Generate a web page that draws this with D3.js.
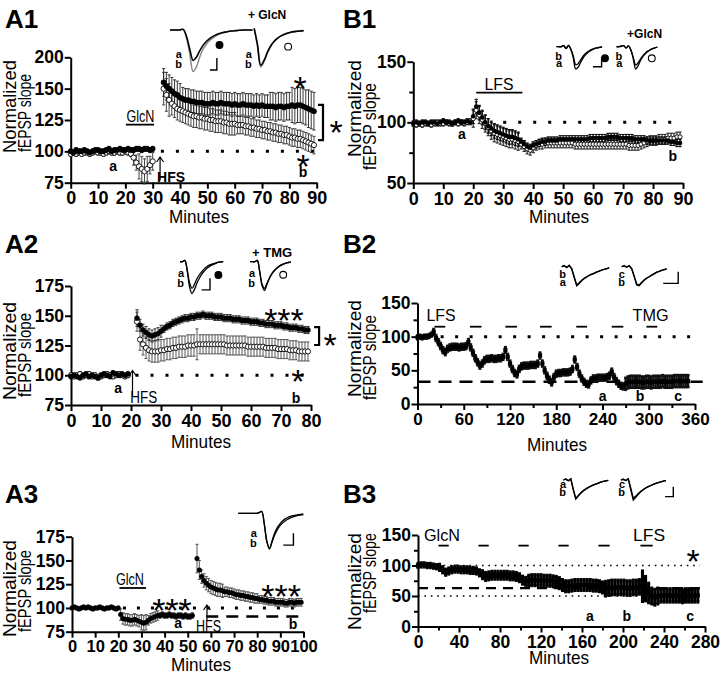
<!DOCTYPE html>
<html><head><meta charset="utf-8">
<script src="https://cdn.jsdelivr.net/npm/d3@7"></script>
<style>body{margin:0;background:#fff}svg{display:block}</style>
</head><body>
<svg id="fig" width="720" height="676"></svg>
<script>
// ================= DATA =================
// A1 : 1-min bins from t=0 ; null = no sample
const a1Ctrl = [100,99,101,100,100,101,100,99,100,101,101,100,100,101,102,100,101,101,102,101,101,102,101,101,102,102,101,102,102,101,102,null,null,null,
155,152,150,148,146,145,143,142,141,141,140,140,139,139,139,138,138,138,139,138,138,139,138,138,138,137,138,137,137,138,137,137,137,136,137,136,137,136,136,136,136,135,136,136,135,136,136,137,136,137,137,136,135,134,133,132];
const a1CtrlErr = [[0,30,2],[34,40,11],[41,72,9],[73,80,11],[81,86,14],[87,89,15]];
const a1Glc = [98,99,98,99,98,99,99,98,99,100,99,99,98,99,100,99,99,100,99,99,100,99,98,95,91,88,86,84,86,89,92,null,null,null,
150,145,141,138,136,134,133,132,131,130,129,128,128,127,127,126,126,125,125,124,124,124,123,123,122,122,122,121,121,121,120,120,119,119,118,118,117,117,116,116,115,115,114,114,113,113,112,111,111,110,110,109,108,107,106,105];
const a1GlcErr = [[0,22,2],[23,24,6],[25,28,10],[29,30,7],[34,36,13],[37,60,9],[61,89,7]];
const a1XTicks = [0,10,20,30,40,50,60,70,80,90];
const a1YTicks = [75,100,125,150,175];
const a1YLabels = ["75","100","125","150","200"];

// A2
const a2Ctrl = [99,100,99,98,100,101,99,100,99,98,100,101,100,99,102,101,100,101,100,101,null,null,
148,142,138,136,134,133,134,135,137,139,141,142,144,145,146,147,148,148,149,149,150,150,151,150,150,150,149,149,149,148,148,148,147,147,147,146,146,146,145,145,145,144,144,143,143,143,142,142,142,141,141,140,140,140,139,139,138,138];
const a2CtrlErr = [[0,19,2],[22,22,7],[23,30,5],[31,79,3]];
const a2Tmg = [100,99,100,101,99,100,101,99,100,98,99,100,101,100,99,100,101,100,99,100,null,null,
145,130,126,123,121,120,120,120,121,121,122,122,123,123,124,124,124,125,125,125,126,126,126,126,126,126,126,126,126,126,125,125,125,125,125,125,125,124,124,124,124,124,124,123,123,123,123,122,122,122,122,121,121,121,120,120,120,120];
const a2TmgErr = [[0,19,2],[22,22,8],[23,41,9],[42,42,13],[43,79,8]];
const a2XTicks = [0,10,20,30,40,50,60,70,80];
const a2YTicks = [75,100,125,150,175];

// A3
const a3Vals = [100,101,100,99,100,101,100,101,100,99,100,100,101,100,99,100,100,101,100,99,100,
93,89,88,88,87,87,88,87,86,85,84,85,87,89,90,91,92,92,93,92,92,93,92,92,91,92,92,91,92,91,91,92,null,
152,140,133,129,126,124,122,121,120,119,119,118,117,117,116,116,115,114,114,113,113,112,112,111,111,110,110,109,109,108,108,107,107,107,106,106,106,106,105,105,106,106,105,106,106,106];
const a3Err = [[0,20,2],[21,29,6],[30,32,8],[33,37,5],[38,52,3],[54,54,15],[55,55,10],[56,65,7],[66,80,5],[81,99,4]];
const a3XTicks = [0,10,20,30,40,50,60,70,80,90,100];
const a3YTicks = [75,100,125,150,175];

// B1
const b1Ctrl = [99,100,99,100,100,99,100,100,99,100,101,100,100,99,100,101,100,100,101,100,
105,113,108,104,100,97,95,93,92,91,90,89,88,88,87,86,84,82,80,79,81,82,83,84,84,85,85,85,85,86,86,86,86,86,86,86,86,86,86,87,87,87,87,87,87,88,88,88,88,87,87,87,87,87,86,86,86,86,85,85,85,85,85,85,85,85,84,84,83,83];
const b1CtrlErr = [[0,19,2],[20,35,6],[36,89,3]];
const b1Glc = [99,98,99,98,99,99,98,99,100,99,99,100,99,99,100,99,100,99,100,101,
103,110,106,102,99,96,93,91,90,89,88,87,86,86,85,84,82,80,78,77,79,81,82,82,83,83,83,83,83,83,83,83,83,83,82,82,82,82,82,82,82,82,82,82,82,82,82,82,82,82,82,82,81,81,81,81,82,83,84,85,85,85,86,86,86,87,87,87,88,88];
const b1GlcErr = [[0,19,2],[20,35,7],[36,89,4]];
const b1XTicks = [0,10,20,30,40,50,60,70,80,90];
const b1YTicks = [50,100,150];

// B2 : 3-min bins from t=0
const b2Vals = [99,100,99,100,100,101,103,107,98,92, 86,80,77,82,84,85,85,85,84,85, 85,86,92,84,76,68,62,57,60,65,
67,67,68,67,67,68,68,70,80,70, 60,52,46,44,52,56,57,57,57,58, 58,58,60,72,60,50,42,36,32,40,
45,46,46,47,47,47,48,52,66,55, 45,38,33,30,29,35,38,38,39,39, 39,39,40,42,48,40,34,30,27,26,
30,32,33,33,33,33,33,32,32,33, 33,32,33,33,33,33,34,33,33,33, 33,34,34,34,34,34,34,34];
const b2Err = [[0,19,3],[20,269,4.5],[270,351,9]];
const b2Bars = [[22,36],[68,83],[114,129],[159,174],[206,220],[252,267],[297,311]];
const b2XTicks = [0,60,120,180,240,300,360];
const b2YTicks = [0,50,100,150];

// B3 : 3-min bins from t=0
const b3Vals = [100,101,101,100,100,99,98,97,93,89, 91,93,94,94,93,93,93,92,92,91, 88,85,82,83,84,84,84,84,84,84,
83,83,82,80,76,74,75,76,76,76, 76,75,75,75,74,73,71,68,66,66, 67,68,68,68,68,68,68,67,67,66,
64,62,63,64,64,64,64,64,63,63, 64,64,65,66,62,55,50,48,50,51, 51,51,51,51,51,51,50,51,51,51, 51,51];
const b3Err = [[0,20,3.5],[21,60,5],[61,105,6.5],[106,180,9],[181,216,12],[217,220,25],[221,223,20],[224,227,16],[228,234,13],[235,273,11]];
const b3Bars = [[20,30],[59,69],[98,108],[137,147],[176,187],[217,229]];
const b3XTicks = [0,40,80,120,160,200,240,280];
const b3YTicks = [0,50,100,150];

// inset traces (baseline 0, peak of reference trace = -1)
const a1InA  = [0,0,0,0,0.02,-0.2,-0.6,-0.95,-0.85,-0.65,-0.48,-0.36,-0.27,-0.2,-0.15,-0.11,-0.08,-0.06,-0.04,-0.03,-0.02,-0.01,0,0,0,0];
const a1InB  = [0,0,0,0,0.02,-0.25,-0.75,-1.3,-1.15,-0.85,-0.6,-0.45,-0.33,-0.25,-0.18,-0.13,-0.09,-0.06,-0.04,-0.03,-0.02,-0.01,0,0,0,0];
const a1InA2 = [0.05,-0.45,-1.1,-0.95,-0.7,-0.5,-0.36,-0.26,-0.19,-0.14,-0.1,-0.07,-0.05,-0.04,-0.03,-0.02];
const a1InB2 = [0.05,-0.5,-1.15,-0.98,-0.72,-0.52,-0.37,-0.27,-0.2,-0.15,-0.11,-0.08,-0.06,-0.04,-0.03,-0.02];
const b1InA  = [0,0,0,0.05,-0.08,0.06,-0.12,-0.5,-1.0,-0.92,-0.72,-0.52,-0.38,-0.27,-0.19,-0.13,-0.08,-0.05,-0.03,-0.01];
const b1InB  = [0,0,0,0.05,-0.08,0.06,-0.12,-0.42,-0.8,-0.76,-0.6,-0.44,-0.32,-0.23,-0.16,-0.11,-0.07,-0.05,-0.03,-0.01];
const b1InA2 = [0,0,0.02,0.05,-0.06,0.04,-0.15,-0.55,-1.0,-0.85,-0.62,-0.45,-0.32,-0.22,-0.15,-0.09,-0.05,-0.02];
const b1InB2 = [0,0,0.02,0.05,-0.06,0.04,-0.15,-0.48,-0.82,-0.72,-0.55,-0.4,-0.29,-0.2,-0.14,-0.09,-0.05,-0.02];
const a2InA  = [0,0,0.05,-0.3,-0.8,-1.0,-0.85,-0.65,-0.5,-0.38,-0.28,-0.2,-0.14,-0.1,-0.07,-0.04,-0.02,-0.01,0];
const a2InB  = [0,0,0.05,-0.35,-0.95,-1.2,-1.05,-0.82,-0.63,-0.48,-0.36,-0.27,-0.2,-0.14,-0.1,-0.06,-0.03,-0.01,0];
const a2InA2 = [0,0,0,0.05,-0.35,-0.85,-1.0,-0.82,-0.62,-0.46,-0.34,-0.25,-0.18,-0.12,-0.08,-0.05,-0.03,-0.01];
const a2InB2 = [0,0,0,0.05,-0.38,-0.9,-1.08,-0.86,-0.64,-0.47,-0.35,-0.26,-0.19,-0.13,-0.09,-0.05,-0.03,-0.01];
const b2InA  = [0,0.06,-0.05,0.08,-0.1,-0.55,-1.0,-0.88,-0.74,-0.63,-0.55,-0.47,-0.4,-0.35,-0.28,-0.24,-0.18,-0.14,-0.1,-0.06];
const b2InB  = [0,0.04,-0.03,0.06,-0.12,-0.6,-1.05,-0.92,-0.77,-0.65,-0.56,-0.48,-0.42,-0.36,-0.3,-0.24,-0.19,-0.14,-0.11,-0.07];
const b2InA2 = [0,0.05,-0.03,0.06,-0.1,-0.5,-0.95,-1.0,-0.85,-0.72,-0.62,-0.55,-0.45,-0.38,-0.3,-0.25,-0.2,-0.16,-0.12];
const b2InB2 = [0,0.04,-0.02,0.05,-0.12,-0.55,-1.0,-1.04,-0.88,-0.74,-0.63,-0.55,-0.46,-0.39,-0.31,-0.26,-0.2,-0.16,-0.12];
const b3InA  = [0,0.05,-0.04,0.06,-0.5,-1.0,-0.85,-0.7,-0.58,-0.48,-0.4,-0.33,-0.27,-0.22,-0.17,-0.12,-0.08,-0.05,-0.02];
const b3InB  = [0,0.05,-0.04,0.06,-0.55,-1.05,-0.88,-0.72,-0.6,-0.5,-0.42,-0.34,-0.28,-0.22,-0.17,-0.12,-0.08,-0.05,-0.02];
const b3InA2 = [0,0.04,-0.03,0.06,-0.45,-1.0,-0.88,-0.74,-0.62,-0.52,-0.43,-0.36,-0.3,-0.24,-0.19,-0.14,-0.1,-0.06,-0.03];
const b3InB2 = [0,0.04,-0.03,0.06,-0.55,-1.1,-0.95,-0.78,-0.64,-0.53,-0.44,-0.36,-0.3,-0.24,-0.19,-0.14,-0.1,-0.06,-0.03];
const a3InA  = [0,0,0,0,0,0,0,0,0.02,0.05,-0.3,-0.8,-1.0,-0.82,-0.62,-0.47,-0.36,-0.28,-0.22,-0.17,-0.13,-0.1,-0.08,-0.06,-0.05,-0.04];
const a3InB  = [0,0,0,0,0,0,0,0,0.02,0.05,-0.32,-0.82,-1.02,-0.78,-0.56,-0.41,-0.3,-0.22,-0.16,-0.12,-0.09,-0.07,-0.05,-0.04,-0.03,-0.02];

// ================= DRAWING =================
const FONT = "'Liberation Sans', Arial, Helvetica, sans-serif";
const svg = d3.select("#fig");

function txt(g, x, y, s, o = {}) {
  const t = g.append("text").attr("x", x).attr("y", y).text(s)
    .attr("font-family", FONT).attr("font-size", o.size || 14)
    .attr("font-weight", o.weight || "normal")
    .attr("text-anchor", o.anchor || "start").attr("fill", "#000");
  if (o.len) t.attr("textLength", o.len).attr("lengthAdjust", "spacingAndGlyphs");
  if (o.rot) t.attr("transform", `rotate(-90,${x},${y})`);
  return t;
}

function panel(c) {
  const g = svg.append("g");
  const x = d3.scaleLinear().domain(c.xDom).range(c.xR);
  const y = d3.scaleLinear().domain(c.yDom).range(c.yR);
  const style = (a, fs) => {
    a.attr("font-family", FONT).attr("font-weight", "bold").attr("font-size", fs);
    a.select(".domain").attr("stroke-width", 2);
    a.selectAll(".tick line").attr("stroke-width", 2);
    a.selectAll("text").attr("fill", "#000");
  };
  if (c.xMinor) g.append("g").attr("transform", `translate(0,${c.yR[0]})`)
    .call(d3.axisBottom(x).tickValues(c.xMinor).tickFormat("").tickSize(4).tickSizeOuter(0))
    .call(a => { a.select(".domain").remove(); a.selectAll("line").attr("stroke-width", 2); });
  if (c.yMinor) g.append("g").attr("transform", `translate(${c.xR[0]},0)`)
    .call(d3.axisLeft(y).tickValues(c.yMinor).tickFormat("").tickSize(4).tickSizeOuter(0))
    .call(a => { a.select(".domain").remove(); a.selectAll("line").attr("stroke-width", 2); });
  const gx = g.append("g").attr("transform", `translate(0,${c.yR[0]})`)
    .call(d3.axisBottom(x).tickValues(c.xTicks).tickFormat((d, i) => c.xLabels ? c.xLabels[i] : d)
      .tickSize(6).tickSizeOuter(0).tickPadding(3));
  const gy = g.append("g").attr("transform", `translate(${c.xR[0]},0)`)
    .call(d3.axisLeft(y).tickValues(c.yTicks).tickFormat((d, i) => c.yLabels ? c.yLabels[i] : d)
      .tickSize(6).tickSizeOuter(0).tickPadding(1));
  style(gx, c.xfs || 18); style(gy, c.yfs || 17.5);
  txt(g, c.min[0], c.min[1], "Minutes", { size: 19, len: 60, anchor: "middle" });
  txt(g, c.norm[0], c.norm[1], "Normalized", { size: 17.5, len: c.norm[2], rot: true });
  txt(g, c.fep[0], c.fep[1], "fEPSP slope", { size: 17.5, len: c.fep[2], rot: true });
  txt(svg, c.lab[0], c.lab[1], c.name, { size: 26, weight: "bold" });
  return { g, x, y };
}

function errAt(segs, t) { for (const s of segs) if (t >= s[0] && t <= s[1]) return s[2]; return 0; }
function pts(vals, step, segs) {
  const out = [];
  vals.forEach((v, i) => { if (v != null) { const t = i * step; out.push({ t, v, e: errAt(segs, t) }); } });
  return out;
}
function errBars(P, data, o) {
  const g = P.g.append("g").attr("stroke", o.color || "#222").attr("stroke-width", o.w || 0.9);
  g.selectAll("line.v").data(data).join("line")
    .attr("x1", d => P.x(d.t)).attr("x2", d => P.x(d.t))
    .attr("y1", d => P.y(d.v + d.e)).attr("y2", d => P.y(d.v - d.e));
  const cw = o.cap == null ? 1.6 : o.cap;
  if (cw > 0) {
    ["+", "-"].forEach(sg => {
      g.selectAll(null).data(data).join("line")
        .attr("x1", d => P.x(d.t) - cw).attr("x2", d => P.x(d.t) + cw)
        .attr("y1", d => P.y(sg === "+" ? d.v + d.e : d.v - d.e))
        .attr("y2", d => P.y(sg === "+" ? d.v + d.e : d.v - d.e));
    });
  }
}
function marks(P, data, o) {
  const g = P.g.append("g");
  if (o.shape === "square") {
    const s = o.size || 3.5;
    g.selectAll("rect").data(data).join("rect")
      .attr("x", d => P.x(d.t) - s / 2).attr("y", d => P.y(d.v) - s / 2)
      .attr("width", s).attr("height", s)
      .attr("fill", o.fill).attr("stroke", o.stroke || "none").attr("stroke-width", o.sw || 0.8);
  } else {
    g.selectAll("circle").data(data).join("circle")
      .attr("cx", d => P.x(d.t)).attr("cy", d => P.y(d.v)).attr("r", o.r || 2.6)
      .attr("fill", o.fill).attr("stroke", o.stroke || "none").attr("stroke-width", o.sw || 0.9);
  }
}
function hline(P, t0, t1, v, o) {
  P.g.append("line").attr("x1", P.x(t0)).attr("x2", P.x(t1)).attr("y1", P.y(v)).attr("y2", P.y(v))
    .attr("stroke", "#000").attr("stroke-width", o.w).attr("stroke-dasharray", o.dash);
}
function bar(P, t0, t1, v) {
  P.g.append("line").attr("x1", P.x(t0)).attr("x2", P.x(t1)).attr("y1", P.y(v)).attr("y2", P.y(v))
    .attr("stroke", "#000").attr("stroke-width", 1.8);
}
function label(P, t, v, s, o) { return txt(P.g, P.x(t), P.y(v), s, o); }
function star(P, t, v, n, size) {
  const fs = size || 34;
  txt(P.g, P.x(t), P.y(v) + 0.6 * fs, "*".repeat(n), { size: fs, anchor: "middle" });
}
function bracket(P, t, v0, v1) {
  const x = P.x(t);
  P.g.append("path").attr("d", `M${x - 5},${P.y(v0)}H${x}V${P.y(v1)}H${x - 5}`)
    .attr("fill", "none").attr("stroke", "#000").attr("stroke-width", 2.2);
}
function arrow(P, t, v0, v1) {
  const x = P.x(t), y0 = P.y(v0), y1 = P.y(v1);
  P.g.append("path").attr("d", `M${x},${y0}V${y1}M${x - 3.5},${y1 + 5}L${x},${y1}L${x + 3.5},${y1 + 5}`)
    .attr("fill", "none").attr("stroke", "#000").attr("stroke-width", 1.2);
}
function inset(c) {
  const g = svg.append("g");
  const x = d3.scaleLinear().domain([0, 1]).range([c.x0, c.x0 + c.step]);
  const y = d3.scaleLinear().domain([0, -1]).range([c.yb, c.yb + c.unit]);
  const line = d3.line().x(d => x(d.t)).y(d => y(d.v)).curve(c.curve || d3.curveCatmullRom);
  c.traces.forEach(tr => {
    const p = tr.vals.map((v, i) => ({ t: tr.t0 + i, v }));
    g.append("path").attr("d", line(p)).attr("fill", "none")
      .attr("stroke", tr.color || "#000").attr("stroke-width", tr.w || 1.3);
  });
  c.labels.forEach(l => txt(g, x(l.t), y(l.v), l.s, { size: 11, weight: "bold", anchor: "end" }));
  const b = c.bar;
  g.append("path").attr("d", `M${x(b[0])},${y(b[3])}H${x(b[1])}V${y(b[2])}`)
    .attr("fill", "none").attr("stroke", "#000").attr("stroke-width", 1.4);
  (c.dots || []).forEach(d => g.append("circle").attr("cx", x(d[0])).attr("cy", y(d[1])).attr("r", 3.4)
    .attr("fill", d[2] ? "#000" : "#fff").attr("stroke", "#000").attr("stroke-width", 1.1));
  if (c.title) txt(g, x(c.title[0]), y(c.title[1]), c.title[2], { size: c.title[3] || 12, weight: "bold" });
}

// ---------- A1 ----------
const A1 = panel({ name: "A1", lab: [5, 28], xDom: [0, 90], xR: [70.7, 316.7], yDom: [75, 175], yR: [182.7, 57.3],
  xTicks: a1XTicks, yTicks: a1YTicks, yLabels: a1YLabels,
  min: [199, 223], norm: [16, 153, 93], fep: [31, 152, 78] });
hline(A1, 33, 90, 100, { w: 3, dash: "3,12" });
const a1g = pts(a1Glc, 1, a1GlcErr), a1c = pts(a1Ctrl, 1, a1CtrlErr);
errBars(A1, a1g, { color: "#333" });
errBars(A1, a1c, { color: "#222" });
marks(A1, a1g, { fill: "#fff", stroke: "#000", r: 2.6 });
marks(A1, a1c, { fill: "#000", r: 2.8 });
label(A1, 25.5, 123.6, "GlcN", { size: 17, anchor: "middle", len: 28 });
bar(A1, 20.2, 30.5, 121.3);
arrow(A1, 32.7, 77, 95.5);
label(A1, 31.6, 75.6, "HFS", { size: 15, weight: "bold", len: 28 });
label(A1, 15.5, 84.3, "a", { size: 14, weight: "bold", anchor: "middle" });
label(A1, 85, 79.5, "b", { size: 14, weight: "bold", anchor: "middle" });
star(A1, 83.9, 156.9, 1); star(A1, 85, 95, 1);
bracket(A1, 92.3, 137, 109); star(A1, 97.1, 121.8, 1);
inset({ x0: 170, step: 3.3, yb: 30, unit: 32,
  traces: [{ t0: 0, vals: a1InB, color: "#8a8a8a", w: 1.5 }, { t0: 0, vals: a1InA, w: 1.6 },
           { t0: 25.5, vals: a1InB2, color: "#8a8a8a", w: 1.5 }, { t0: 25.5, vals: a1InA2, w: 1.6 }],
  labels: [{ t: 3.6, v: -0.875, s: "a" }, { t: 3.6, v: -1.19, s: "b" }, { t: 24.8, v: -0.875, s: "a" }, { t: 24.8, v: -1.19, s: "b" }],
  bar: [12.1, 14.2, -0.875, -1.25], dots: [[15, -0.47, true], [35.8, -0.52, false]], title: [23.6, 0.33, "+ GlcN"] });

// ---------- B1 ----------
const B1 = panel({ name: "B1", lab: [343, 28], xDom: [0, 90], xR: [413.3, 683], yDom: [50, 150], yR: [183, 61.7],
  xTicks: b1XTicks, yTicks: b1YTicks, yMinor: [75, 125],
  min: [559, 223], norm: [361, 157, 97], fep: [376, 170, 87] });
hline(B1, 30, 90, 100, { w: 3, dash: "3,12" });
const b1g = pts(b1Glc, 1, b1GlcErr), b1c = pts(b1Ctrl, 1, b1CtrlErr);
errBars(B1, b1g, { color: "#222", w: 1.1 });
errBars(B1, b1c, { color: "#000", w: 1.1 });
marks(B1, b1g, { fill: "#fff", stroke: "#000", r: 2.1 });
marks(B1, b1c, { fill: "#000", r: 2.3 });
label(B1, 28.6, 126.6, "LFS", { size: 17, anchor: "middle", len: 29 });
bar(B1, 21, 36.4, 124.5);
label(B1, 16.2, 86.3, "a", { size: 14, weight: "bold", anchor: "middle" });
label(B1, 86.6, 68.1, "b", { size: 14, weight: "bold", anchor: "middle" });
inset({ x0: 556.5, step: 2.4, yb: 46.7, unit: 22.3,
  traces: [{ t0: 0, vals: b1InA }, { t0: 0, vals: b1InB }, { t0: 25, vals: b1InA2 }, { t0: 25, vals: b1InB2 }],
  labels: [{ t: 2.3, v: -0.6, s: "b" }, { t: 2.3, v: -0.92, s: "a" }, { t: 27.4, v: -0.6, s: "b" }, { t: 27.4, v: -0.92, s: "a" }],
  bar: [15.2, 18.8, -0.52, -0.9], dots: [[20.2, -0.52, true], [39.7, -0.52, false]], title: [29.4, 0.4, "+GlcN"] });

// ---------- A2 ----------
const A2 = panel({ name: "A2", lab: [5, 253], xDom: [0, 80], xR: [71, 311], yDom: [75, 175], yR: [405, 286],
  xTicks: a2XTicks, yTicks: a2YTicks,
  min: [201, 448], norm: [16, 400, 98], fep: [31, 397, 84] });
hline(A2, 21.5, 79, 100, { w: 3, dash: "3,12" });
const a2t = pts(a2Tmg, 1, a2TmgErr), a2c = pts(a2Ctrl, 1, a2CtrlErr);
errBars(A2, a2t, { color: "#444" });
errBars(A2, a2c, { color: "#222" });
marks(A2, a2t, { fill: "#fff", stroke: "#000", r: 2.6 });
marks(A2, a2c, { fill: "#000", r: 2.7 });
arrow(A2, 20.5, 82, 104);
label(A2, 19.75, 76.7, "HFS", { size: 16, len: 27 });
label(A2, 15.7, 85.5, "a", { size: 14, weight: "bold", anchor: "middle" });
label(A2, 75, 76.7, "b", { size: 14, weight: "bold", anchor: "middle" });
star(A2, 71, 153.2, 3); star(A2, 75.6, 102.5, 1);
bracket(A2, 82.7, 140.5, 125.4); star(A2, 86.4, 132.1, 1);
inset({ x0: 180, step: 2.4, yb: 261.7, unit: 26.6,
  traces: [{ t0: 0, vals: a2InA }, { t0: 0, vals: a2InB }, { t0: 29.2, vals: a2InA2 }, { t0: 29.2, vals: a2InB2 }],
  labels: [{ t: 1.7, v: -0.58, s: "a" }, { t: 1.7, v: -0.95, s: "b" }, { t: 31.25, v: -0.58, s: "a" }, { t: 31.25, v: -0.95, s: "b" }],
  bar: [9.0, 12.5, -0.62, -1.06], dots: [[16, -0.5, true], [43, -0.49, false]], title: [30, 0.18, "+ TMG", 13] });

// ---------- B2 ----------
const B2 = panel({ name: "B2", lab: [343, 253], xDom: [0, 360], xR: [417.5, 695], yDom: [0, 150], yR: [404, 303],
  xTicks: b2XTicks, yTicks: b2YTicks, xMinor: [30, 90, 150, 210, 270, 330], yMinor: [25, 75, 125], xfs: 17,
  min: [557, 451], norm: [361, 397, 97], fep: [376, 400, 85] });
hline(B2, 30, 368, 100, { w: 3, dash: "3,11.5" });
hline(B2, 0, 370, 33, { w: 2.6, dash: "13,8" });
const b2p = pts(b2Vals, 3, b2Err);
errBars(B2, b2p, { color: "#111", w: 2.4, cap: 1.5 });
marks(B2, b2p, { shape: "square", fill: "#000", size: 4.2 });
b2Bars.forEach(b => bar(B2, b[0], b[1], 114.8));
label(B2, 30.5, 123.3, "LFS", { size: 17, anchor: "middle", len: 29 });
label(B2, 302.3, 123.3, "TMG", { size: 17, anchor: "middle", len: 36 });
label(B2, 240.3, 4.9, "a", { size: 14, weight: "bold", anchor: "middle" });
label(B2, 288.6, 4.9, "b", { size: 14, weight: "bold", anchor: "middle" });
label(B2, 338, 4.9, "c", { size: 14, weight: "bold", anchor: "middle" });
inset({ x0: 561.7, step: 2.5, yb: 266.7, unit: 18.3, curve: d3.curveLinear,
  traces: [{ t0: 0, vals: b2InA }, { t0: 0, vals: b2InB }, { t0: 24, vals: b2InA2 }, { t0: 24, vals: b2InB2 }],
  labels: [{ t: 1.7, v: -0.62, s: "b" }, { t: 1.7, v: -1.05, s: "a" }, { t: 25.3, v: -0.62, s: "c" }, { t: 25.3, v: -1.05, s: "b" }],
  bar: [40.6, 46.6, -0.27, -0.91] });

// ---------- A3 ----------
const A3 = panel({ name: "A3", lab: [5, 503], xDom: [0, 100], xR: [72, 303.5], yDom: [75, 175], yR: [631.7, 536.7],
  xTicks: a3XTicks, yTicks: a3YTicks, xfs: 16.5,
  min: [201, 671], norm: [16, 637, 97], fep: [31, 632, 82] });
hline(A3, 22, 100, 100, { w: 3, dash: "3,11" });
hline(A3, 58, 99.5, 91, { w: 2.6, dash: "12,8" });
const a3p = pts(a3Vals, 1, a3Err);
errBars(A3, a3p, { color: "#555", w: 1 });
marks(A3, a3p, { fill: "#000", r: 2.5 });
label(A3, 25, 124.2, "GlcN", { size: 17, anchor: "middle", len: 28 });
bar(A3, 20.5, 32, 121);
arrow(A3, 58.3, 87.3, 103.1);
label(A3, 53.6, 74.7, "HFS", { size: 16, len: 25 });
label(A3, 45.8, 78.9, "a", { size: 14, weight: "bold", anchor: "middle" });
label(A3, 95.5, 77.8, "b", { size: 14, weight: "bold", anchor: "middle" });
star(A3, 43.2, 106.2, 3); star(A3, 90.3, 121, 3);
inset({ x0: 238.3, step: 2.6, yb: 513.3, unit: 35,
  traces: [{ t0: 0, vals: a3InA }, { t0: 0, vals: a3InB }],
  labels: [{ t: 7.1, v: -0.68, s: "a" }, { t: 7.1, v: -0.96, s: "b" }],
  bar: [17.3, 21.2, -0.57, -0.91] });

// ---------- B3 ----------
const B3 = panel({ name: "B3", lab: [343, 503], xDom: [0, 280], xR: [418, 705], yDom: [0, 150], yR: [626.5, 535],
  xTicks: b3XTicks, yTicks: b3YTicks, xMinor: [20, 60, 100, 140, 180, 220, 260], yMinor: [25, 75, 125], xfs: 17.5,
  min: [559, 664], norm: [361, 630, 97], fep: [376, 613, 80] });
hline(B3, 0, 275, 100, { w: 1.6, dash: "1.6,4.8" });
hline(B3, 0, 275, 50, { w: 1.6, dash: "1.6,4.8" });
hline(B3, 0, 275, 63, { w: 2.2, dash: "10,7" });
const b3p = pts(b3Vals, 3, b3Err);
errBars(B3, b3p, { color: "#000", w: 3.1, cap: 1.5 });
marks(B3, b3p, { shape: "square", fill: "#000", size: 4.2 });
b3Bars.forEach(b => bar(B3, b[0], b[1], 132.6));
label(B3, 23.4, 140, "GlcN", { size: 17, anchor: "middle", len: 36 });
label(B3, 225.4, 140, "LFS", { size: 17, anchor: "middle", len: 32 });
star(B3, 268.3, 120.5, 1);
label(B3, 167.8, 9, "a", { size: 14, weight: "bold", anchor: "middle" });
label(B3, 203.6, 9, "b", { size: 14, weight: "bold", anchor: "middle" });
label(B3, 265.4, 9, "c", { size: 14, weight: "bold", anchor: "middle" });
inset({ x0: 563.3, step: 2.5, yb: 480, unit: 18.3, curve: d3.curveLinear,
  traces: [{ t0: 0, vals: b3InA }, { t0: 0, vals: b3InB }, { t0: 23, vals: b3InA2 }, { t0: 23, vals: b3InB2 }],
  labels: [{ t: 1.1, v: -0.44, s: "a" }, { t: 1.1, v: -0.9, s: "b" }, { t: 24.7, v: -0.44, s: "c" }, { t: 24.7, v: -0.9, s: "b" }],
  bar: [40.7, 44, -0.37, -0.91] });
</script>
</body></html>
